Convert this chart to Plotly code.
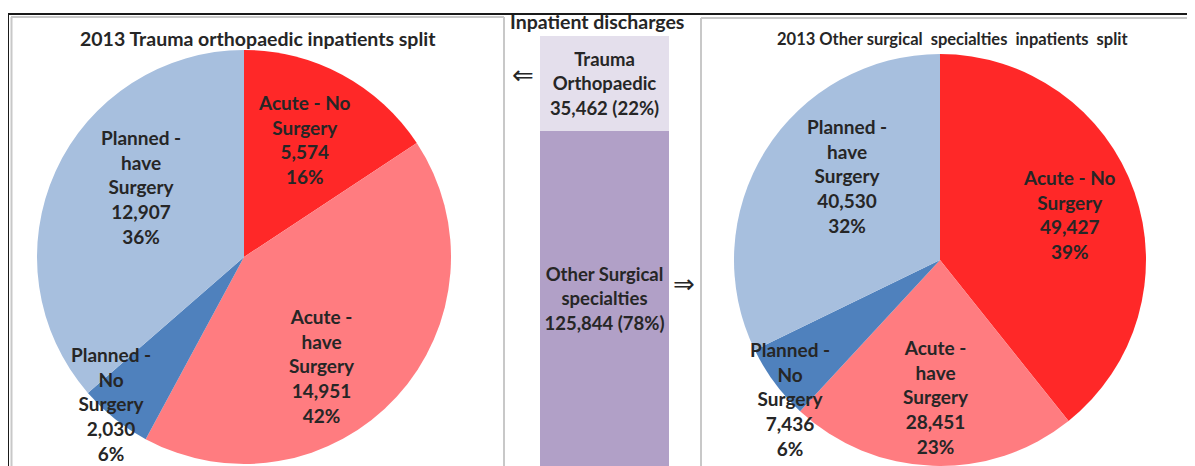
import plotly.graph_objects as go

# page offset (browser body margin) and figure size
OX, OY = 8, 8
W, H = 1195 - OX, 466 - OY

# ---- data ----
categories = ["Acute - No<br>Surgery", "Acute -<br>have<br>Surgery", "Planned -<br>No<br>Surgery", "Planned -<br>have<br>Surgery"]
trauma_values = [5574, 14951, 2030, 12907]
other_values = [49427, 28451, 7436, 40530]
bar_labels = ["Trauma<br>Orthopaedic", "Other Surgical<br>specialties"]
bar_values = [35462, 125844]
slice_colors = ["#FF2828", "#FF7C80", "#4F81BD", "#A7BFDE"]
bar_colors = ["#E4DFEC", "#B1A0C7"]

FONT = "Lato"
TXT = "#262626"

def px(x):
    return (x - OX) / W

def py(y):
    return 1 - (y - OY) / H

fig = go.Figure()

# pies
fig.add_trace(go.Pie(
    values=trauma_values, labels=categories, sort=False, direction="clockwise",
    marker=dict(colors=slice_colors, line=dict(width=0)), textinfo="none",
    hoverinfo="label+value+percent", showlegend=False,
    domain=dict(x=[px(37), px(451)], y=[py(464), py(50)]),
))
fig.add_trace(go.Pie(
    values=other_values, labels=categories, sort=False, direction="clockwise",
    marker=dict(colors=slice_colors, line=dict(width=0)), textinfo="none",
    hoverinfo="label+value+percent", showlegend=False,
    domain=dict(x=[px(734), px(1146)], y=[py(466), py(54)]),
))

# stacked bar
total = sum(bar_values)
for lab, v, c in zip(bar_labels, bar_values, bar_colors):
    fig.add_trace(go.Bar(
        x=["Inpatient discharges"], y=[v], marker=dict(color=c, line=dict(width=0)),
        text=[f"{lab}<br>{v:,} ({round(100*v/total)}%)"], textposition="inside",
        insidetextanchor="middle", constraintext="none",
        textfont=dict(family=FONT, size=18.5, color=TXT, weight="bold"),
        width=1, showlegend=False, xaxis="x", yaxis="y",
    ))

fig.update_layout(
    barmode="stack", bargap=0,
    xaxis=dict(domain=[px(540), px(669)], range=[-0.5, 0.5], visible=False, fixedrange=True),
    yaxis=dict(domain=[0, py(36)], range=[total, 0], visible=False, fixedrange=True),
    width=W, height=H, margin=dict(l=0, r=0, t=0, b=0),
    paper_bgcolor="white", plot_bgcolor="rgba(0,0,0,0)",
)

def note(x, y, text, size, family=FONT, bold=True):
    fig.add_annotation(
        x=px(x), y=py(y), xref="paper", yref="paper", showarrow=False,
        text=text, align="center", xanchor="center", yanchor="middle",
        font=dict(family=family, size=size, color=TXT, weight="bold" if bold else "normal"),
    )

# pie labels (text from data)
def pie_annots(values, positions):
    tot = sum(values)
    for cat, v, (x, y) in zip(categories, values, positions):
        note(x, y, f"{cat}<br>{v:,}<br>{round(100*v/tot)}%", 19)

pie_annots(trauma_values, [(305, 139), (322, 366), (111, 404), (141, 187)])
pie_annots(other_values, [(1069, 214), (936, 397), (790, 399), (847, 176)])

# titles
note(258, 39, "2013 Trauma orthopaedic inpatients split", 19.5)
note(952, 39, "2013 Other surgical\u00a0 specialties\u00a0 inpatients\u00a0 split", 16.5)
note(597, 22, "Inpatient discharges", 19.5)

# arrows
note(523, 75, "\u21d0", 26, family="DejaVu Sans", bold=False)
note(684, 284, "\u21d2", 26, family="DejaVu Sans", bold=False)

# frame lines
shapes = [
    dict(x0=7, x1=1195, y0=14, y1=14, color="#1a1a1a"),
    dict(x0=8, x1=8, y0=14, y1=466, color="#1a1a1a"),
    dict(x0=11, x1=504, y0=17, y1=17, color="#C8C8C8"),
    dict(x0=11.5, x1=11.5, y0=17, y1=466, color="#C8C8C8"),
    dict(x0=504, x1=504, y0=17, y1=466, color="#C8C8C8"),
    dict(x0=701, x1=1195, y0=18, y1=18, color="#C8C8C8"),
    dict(x0=701, x1=701, y0=18, y1=466, color="#C8C8C8"),
]
for s in shapes:
    fig.add_shape(type="line", xref="paper", yref="paper", layer="above",
                  x0=px(s["x0"]), x1=px(s["x1"]), y0=py(s["y0"]), y1=py(s["y1"]),
                  line=dict(color=s["color"], width=2))

fig.write_html("out.html")
